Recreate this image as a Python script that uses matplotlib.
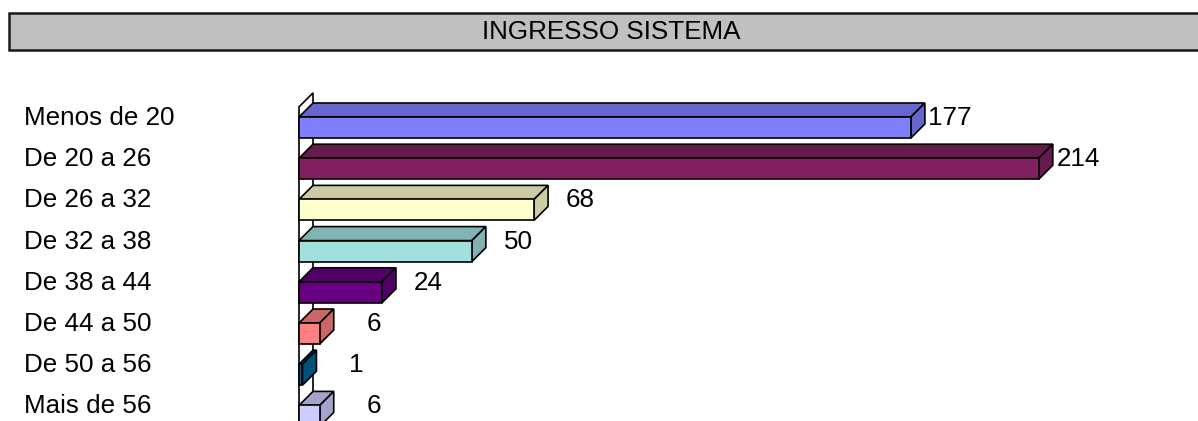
import matplotlib.pyplot as plt
from matplotlib.patches import Polygon, Rectangle
from matplotlib.transforms import blended_transform_factory, offset_copy

plt.rcParams['font.family'] = ['Liberation Sans', 'DejaVu Sans']

# data
categories = ["Menos de 20", "De 20 a 26", "De 26 a 32", "De 32 a 38",
              "De 38 a 44", "De 44 a 50", "De 50 a 56", "Mais de 56"]
values = [177, 214, 68, 50, 24, 6, 1, 6]
colors = ["#8080FF", "#802060", "#FFFFCC", "#A2E0E0",
          "#660080", "#FF8080", "#006699", "#CCCCFF"]
title = "INGRESSO SISTEMA"

W, H = 1198, 421
fig = plt.figure(figsize=(W / 100, H / 100), dpi=100)
ax = fig.add_axes([0, 0, 1, 1])

# pixel geometry of the 3d plot area
px_per_unit = 3.457
x0_px = 299
row_px = 41.2
first_px = 127.5
ax.set_xlim(-x0_px / px_per_unit, (W - x0_px) / px_per_unit)
ax.set_ylim((H - first_px) / row_px, -first_px / row_px)
ax.axis('off')

depth_px = 14
dx = depth_px / px_per_unit
dy = depth_px / row_px
bh = 21 / row_px          # front face height
lw = 1.2


def shade(c, f=0.8):
    r, g, b = plt.matplotlib.colors.to_rgb(c)
    return (r * f, g * f, b * f)


# left wall
ymax = len(categories) + 1
wall = Polygon([(0, -0.5), (dx, -0.5 - dy), (dx, ymax), (0, ymax)],
               closed=True, facecolor='white', edgecolor='black', lw=lw, zorder=1)
ax.add_patch(wall)

pos = list(range(len(categories)))
ax.barh(pos, values, height=bh, left=0, color=colors, edgecolor='black',
        linewidth=lw, zorder=3)

for p, v, c in zip(pos, values, colors):
    top = p - bh / 2
    bot = p + bh / 2
    ax.add_patch(Polygon([(0, top), (v, top), (v + dx, top - dy), (dx, top - dy)],
                         closed=True, facecolor=shade(c), edgecolor='black',
                         lw=lw, zorder=2))
    ax.add_patch(Polygon([(v, top), (v + dx, top - dy), (v + dx, bot - dy), (v, bot)],
                         closed=True, facecolor=shade(c), edgecolor='black',
                         lw=lw, zorder=2))

fs = 18.7
lab_tr = offset_copy(blended_transform_factory(fig.transFigure, ax.transData),
                     fig=fig, x=0, y=-1, units='dots')
for p, name in zip(pos, categories):
    ax.text(24 / W, p - bh / 2, name, transform=lab_tr, ha='left', va='center',
            fontsize=fs)

val_tr = offset_copy(ax.transData, fig=fig, x=47, y=-1, units='dots')
for p, v in zip(pos, values):
    ax.text(v + dx, p - bh / 2, str(v), transform=val_tr, ha='right',
            va='center', fontsize=fs)

# title bar
fig.patches.append(Rectangle((9 / W, 1 - 50 / H), 1.0, 37 / H,
                             transform=fig.transFigure, facecolor='#C0C0C0',
                             edgecolor='#1a1a1a', lw=1.8))
fig.text(611 / W, 1 - 32 / H, title, ha='center', va='center', fontsize=fs)

fig.savefig("out.png", dpi=100)
